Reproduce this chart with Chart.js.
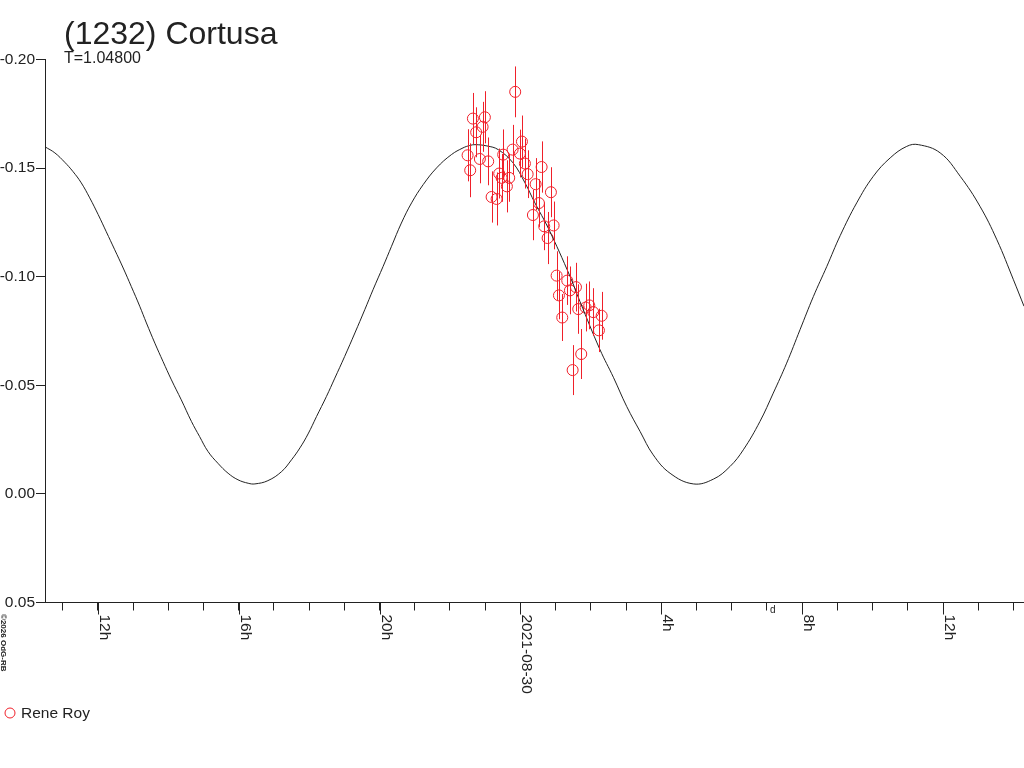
<!DOCTYPE html>
<html>
<head>
<meta charset="utf-8">
<title>(1232) Cortusa</title>
<script src="https://cdn.jsdelivr.net/npm/chart.js@4.4.1/dist/chart.umd.min.js"></script>
<style>
  html, body { margin: 0; padding: 0; background: #fff; }
  canvas { display: block; }
</style>
</head>
<body>
<canvas id="lightcurve" width="1024" height="768"></canvas>
<script>
// time in hours from 2021-08-30 0h, reduced magnitude (axis runs bright at top)
const fitHours = [
  -13.50, -13.22, -12.94, -12.71, -12.47, -12.23, -11.99, -11.76, -11.52, -11.28,
  -11.05, -10.81, -10.62, -10.38, -10.15, -9.91, -9.63, -9.34, -9.11, -8.87,
  -8.59, -8.30, -8.02, -7.73, -7.54, -7.17, -6.78, -6.50, -6.26, -6.03,
  -5.79, -5.51, -5.27, -4.99, -4.70, -4.42, -4.18, -3.90, -3.66, -3.38,
  -3.09, -2.76, -2.38, -1.96, -1.63, -1.44, -1.29, -0.95, -0.63, -0.21,
  0.13, 0.41, 0.79, 1.41, 1.69, 2.26, 2.64, 3.02, 3.40, 3.77,
  4.25, 4.91, 5.48, 5.95, 6.33, 6.80, 7.18, 7.56, 7.94, 8.32,
  8.70, 9.08, 9.55, 10.02, 10.50, 10.97, 11.30, 11.92, 12.49, 13.05,
  13.53, 14.00, 14.30
];
const fitMags = [
  -0.1598, -0.1570, -0.1527, -0.1485, -0.1432, -0.1363, -0.1286, -0.1207, -0.1124, -0.1040,
  -0.0955, -0.0864, -0.0787, -0.0694, -0.0610, -0.0525, -0.0433, -0.0333, -0.0264, -0.0195,
  -0.0141, -0.0095, -0.0065, -0.0049, -0.0046, -0.0061, -0.0103, -0.0157, -0.0212, -0.0276,
  -0.0356, -0.0448, -0.0533, -0.0633, -0.0741, -0.0848, -0.0942, -0.1047, -0.1140, -0.1247,
  -0.1340, -0.1424, -0.1501, -0.1562, -0.1593, -0.1604, -0.1608, -0.1602, -0.1585, -0.1524,
  -0.1432, -0.1340, -0.1224, -0.1001, -0.0886, -0.0664, -0.0537, -0.0402, -0.0287, -0.0180,
  -0.0095, -0.0046, -0.0068, -0.0126, -0.0203, -0.0333, -0.0464, -0.0602, -0.0756, -0.0909,
  -0.1047, -0.1189, -0.1340, -0.1462, -0.1547, -0.1600, -0.1608, -0.1570, -0.1462, -0.1324,
  -0.1170, -0.0986, -0.0864
];

// Rene Roy observations
const obsHours = [
  -1.500, -1.426, -1.349, -1.256, -1.151, -1.074, -1.009, -0.915, -0.818, -0.676,
  -0.602, -0.534, -0.489, -0.384, -0.318, -0.222, -0.148, -0.014, 0.043, 0.128,
  0.205, 0.355, 0.432, 0.526, 0.602, 0.676, 0.773, 0.866, 0.943, 1.028,
  1.094, 1.188, 1.330, 1.406, 1.483, 1.577, 1.642, 1.727, 1.852, 1.955,
  2.068, 2.307, 2.230
];
const obsMags = [
  -0.1559, -0.1490, -0.1728, -0.1665, -0.1542, -0.1690, -0.1734, -0.1531, -0.1367, -0.1358,
  -0.1475, -0.1455, -0.1562, -0.1416, -0.1455, -0.1585, -0.1851, -0.1567, -0.1622, -0.1521,
  -0.1472, -0.1284, -0.1426, -0.1339, -0.1505, -0.1232, -0.1178, -0.1389, -0.1236, -0.1005,
  -0.0914, -0.0812, -0.0982, -0.0937, -0.0570, -0.0952, -0.0851, -0.0644, -0.0858, -0.0868,
  -0.0837, -0.0820, -0.0753
];
const obsErrs = [
  0.0120, 0.0124, 0.0118, 0.0115, 0.0112, 0.0115, 0.0120, 0.0110, 0.0118, 0.0122,
  0.0115, 0.0110, 0.0116, 0.0120, 0.0110, 0.0114, 0.0117, 0.0110, 0.0120, 0.0115,
  0.0110, 0.0116, 0.0120, 0.0110, 0.0118, 0.0110, 0.0120, 0.0115, 0.0110, 0.0112,
  0.0110, 0.0108, 0.0112, 0.0110, 0.0115, 0.0112, 0.0114, 0.0115, 0.0110, 0.0110,
  0.0110, 0.0110, 0.0100
];

const xTickHours = [-13, -12, -11, -10, -9, -8, -7, -6, -5, -4, -3, -2, -1, 0,
  1, 2, 3, 4, 5, 6, 7, 8, 9, 10, 11, 12, 13, 14];
const xTickLabels = { '-12': '12h', '-8': '16h', '-4': '20h', '0': '2021-08-30', '4': '4h', '8': '8h', '12': '12h' };
const yTicks = [-0.20, -0.15, -0.10, -0.05, 0.00, 0.05];

const INK = '#222';
const RED = '#f0202a';
const FONT = '"Liberation Sans", Arial, sans-serif';

const decorations = {
  id: 'decorations',
  afterDatasetsDraw(chart) {
    const { ctx, scales: { x, y } } = chart;
    ctx.save();
    ctx.strokeStyle = RED;
    ctx.lineWidth = 1;
    ctx.beginPath();
    obsHours.forEach((h, i) => {
      const px = Math.round(x.getPixelForValue(h)) + 0.5;
      ctx.moveTo(px, y.getPixelForValue(obsMags[i] - obsErrs[i]));
      ctx.lineTo(px, y.getPixelForValue(obsMags[i] + obsErrs[i]));
    });
    ctx.stroke();
    ctx.restore();
  },
  afterDraw(chart) {
    const { ctx, scales: { x } } = chart;
    const axisY = x.top;
    ctx.save();
    ctx.fillStyle = INK;
    ctx.strokeStyle = INK;
    ctx.lineWidth = 1;

    ctx.font = '32px ' + FONT;
    ctx.fillText('(1232) Cortusa', 64, 44);
    ctx.font = '16px ' + FONT;
    ctx.fillText('T=1.04800', 64, 63);

    // labelled hour ticks are longer, labels run downwards
    Object.keys(xTickLabels).forEach(k => {
      const px = Math.round(x.getPixelForValue(Number(k))) + 0.5;
      ctx.beginPath();
      ctx.moveTo(px, axisY);
      ctx.lineTo(px, axisY + 12);
      ctx.stroke();
      ctx.save();
      ctx.translate(px + 1, axisY + 12);
      ctx.rotate(Math.PI / 2);
      ctx.font = '15.5px ' + FONT;
      ctx.textBaseline = 'alphabetic';
      ctx.fillText(xTickLabels[k], 0, 0);
      ctx.restore();
    });

    ctx.font = '10px ' + FONT;
    ctx.fillText('d', x.getPixelForValue(7) + 3, axisY + 10);

    ctx.save();
    ctx.translate(1, 614);
    ctx.rotate(Math.PI / 2);
    ctx.font = 'bold 8px ' + FONT;
    ctx.fillText('\u00a92026 OdG-RB', 0, 0);
    ctx.restore();

    // legend
    ctx.strokeStyle = RED;
    ctx.beginPath();
    ctx.arc(10, 713, 5, 0, Math.PI * 2);
    ctx.stroke();
    ctx.font = '15.5px ' + FONT;
    ctx.fillText('Rene Roy', 21, 718);
    ctx.restore();
  }
};

const ctx = document.getElementById('lightcurve').getContext('2d');
new Chart(ctx, {
  type: 'scatter',
  data: {
    datasets: [
      {
        label: 'fit',
        data: fitHours.map((h, i) => ({ x: h, y: fitMags[i] })),
        showLine: true,
        borderColor: INK,
        borderWidth: 1,
        pointRadius: 0,
        tension: 0.4
      },
      {
        label: 'Rene Roy',
        data: obsHours.map((h, i) => ({ x: h, y: obsMags[i] })),
        pointStyle: 'circle',
        pointRadius: 5.5,
        borderColor: RED,
        backgroundColor: 'rgba(0,0,0,0)',
        borderWidth: 1
      }
    ]
  },
  options: {
    responsive: false,
    animation: false,
    layout: { autoPadding: false, padding: { top: 59.5, left: 0, right: 0, bottom: 0 } },
    plugins: {
      legend: { display: false },
      tooltip: { enabled: false },
      title: { display: false }
    },
    scales: {
      x: {
        type: 'linear',
        min: -13.5,
        max: 14.3,
        afterBuildTicks: scale => { scale.ticks = xTickHours.map(v => ({ value: v })); },
        afterFit: scale => { scale.height = 165.5; },
        ticks: { display: false },
        grid: { drawOnChartArea: false, drawTicks: true, tickLength: 8, color: INK },
        border: { display: true, color: INK, width: 1 }
      },
      y: {
        type: 'linear',
        reverse: true,
        min: -0.20,
        max: 0.05,
        afterBuildTicks: scale => { scale.ticks = yTicks.map(v => ({ value: v })); },
        afterFit: scale => { scale.width = 45; },
        ticks: {
          padding: 1,
          color: INK,
          font: { family: FONT, size: 15.5 },
          callback: v => v.toFixed(2)
        },
        grid: { drawOnChartArea: false, drawTicks: true, tickLength: 9, color: INK },
        border: { display: true, color: INK, width: 1 }
      }
    }
  },
  plugins: [decorations]
});
</script>
</body>
</html>
